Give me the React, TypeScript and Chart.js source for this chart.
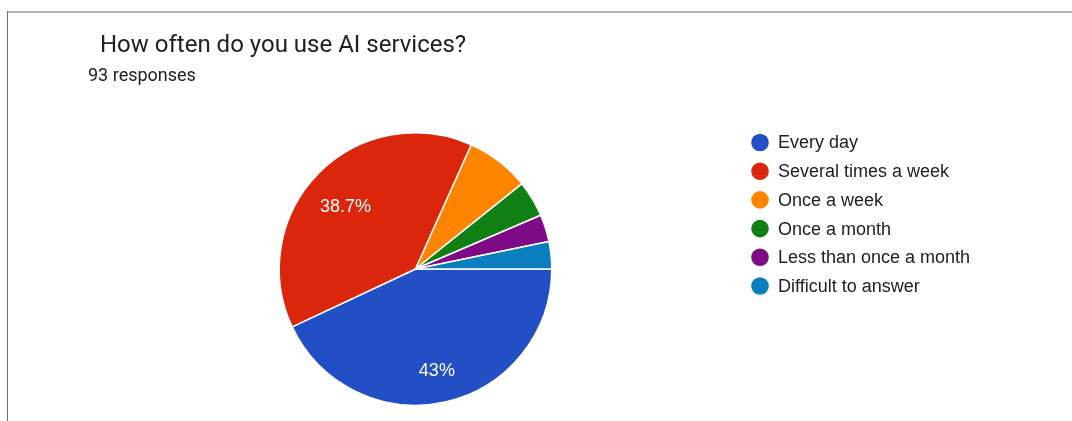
import React, { useEffect, useRef } from "react";
import { Chart, registerables } from "chart.js";

Chart.register(...registerables);

const titleText = "How often do you use AI services?";
const responsesText = "93 responses";
const categories = [
  "Every day",
  "Several times a week",
  "Once a week",
  "Once a month",
  "Less than once a month",
  "Difficult to answer",
];
const counts = [40, 36, 7, 4, 3, 3];
const sliceColors = ["#224fc6", "#dc260c", "#ff8400", "#118014", "#7f0a85", "#0a7fc0"];

const HEAD_FONT = "Roboto, 'Noto Sans', Arial, sans-serif";
const BODY_FONT = "'Liberation Sans', Arial, sans-serif";

const decorPlugin = {
  id: "decor",
  beforeDraw(chart: any) {
    const ctx = chart.ctx;
    ctx.save();
    ctx.fillStyle = "#ffffff";
    ctx.fillRect(0, 0, chart.width, chart.height);
    // card border
    ctx.fillStyle = "#b7b7b7";
    ctx.fillRect(7, 11, chart.width - 7, 2);
    ctx.fillStyle = "#6f6f6f";
    ctx.fillRect(7, 11, 1, chart.height - 11);
    // title
    ctx.fillStyle = "#202124";
    ctx.textBaseline = "alphabetic";
    ctx.textAlign = "left";
    ctx.font = `24px ${HEAD_FONT}`;
    ctx.fillText(titleText, 100, 52);
    ctx.font = `18px ${HEAD_FONT}`;
    ctx.fillText(responsesText, 88, 81);
    ctx.restore();
  },
  afterDraw(chart: any) {
    const ctx = chart.ctx;
    const meta = chart.getDatasetMeta(0);
    const data = chart.data.datasets[0].data as number[];
    const total = data.reduce((a, b) => a + b, 0);
    ctx.save();
    // slice labels
    ctx.font = `18px ${BODY_FONT}`;
    ctx.fillStyle = "#ffffff";
    ctx.textAlign = "center";
    ctx.textBaseline = "middle";
    meta.data.forEach((arc: any, i: number) => {
      const share = data[i] / total;
      if (share < 0.1) return;
      const pct = Math.round(share * 1000) / 10;
      const label = (pct % 1 === 0 ? pct.toFixed(0) : pct.toFixed(1)) + "%";
      const mid = (arc.startAngle + arc.endAngle) / 2;
      const r = arc.outerRadius * 0.72;
      ctx.fillText(label, arc.x + Math.cos(mid) * r, arc.y + Math.sin(mid) * r + 6.5);
    });
    // legend
    const lx = 760;
    const ly0 = 142.5;
    const step = 28.7;
    ctx.textAlign = "left";
    ctx.font = `18px ${BODY_FONT}`;
    categories.forEach((c, i) => {
      const y = ly0 + i * step;
      ctx.beginPath();
      ctx.arc(lx, y, 8.8, 0, Math.PI * 2);
      ctx.fillStyle = sliceColors[i];
      ctx.fill();
      ctx.fillStyle = "#202124";
      ctx.fillText(c, 778, y + 1);
    });
    ctx.restore();
  },
};

export default function App() {
  const ref = useRef<HTMLCanvasElement | null>(null);
  useEffect(() => {
    if (!ref.current) return;
    const chart = new Chart(ref.current, {
      type: "pie",
      data: {
        labels: categories,
        datasets: [
          {
            data: counts,
            backgroundColor: sliceColors,
            borderColor: "#ffffff",
            borderWidth: 1.5,
          },
        ],
      },
      options: {
        responsive: false,
        animation: false,
        devicePixelRatio: 1,
        rotation: 90,
        layout: { padding: { left: 278, right: 519, top: 132, bottom: 15 } },
        plugins: {
          legend: { display: false },
          tooltip: { enabled: false },
          title: { display: false },
        },
      },
      plugins: [decorPlugin],
    });
    return () => chart.destroy();
  }, []);
  return (
    <div style={{ position: "fixed", left: 0, top: 0, width: 1072, height: 421, background: "#fff" }}>
      <canvas ref={ref} width={1072} height={421} style={{ display: "block" }} />
    </div>
  );
}
